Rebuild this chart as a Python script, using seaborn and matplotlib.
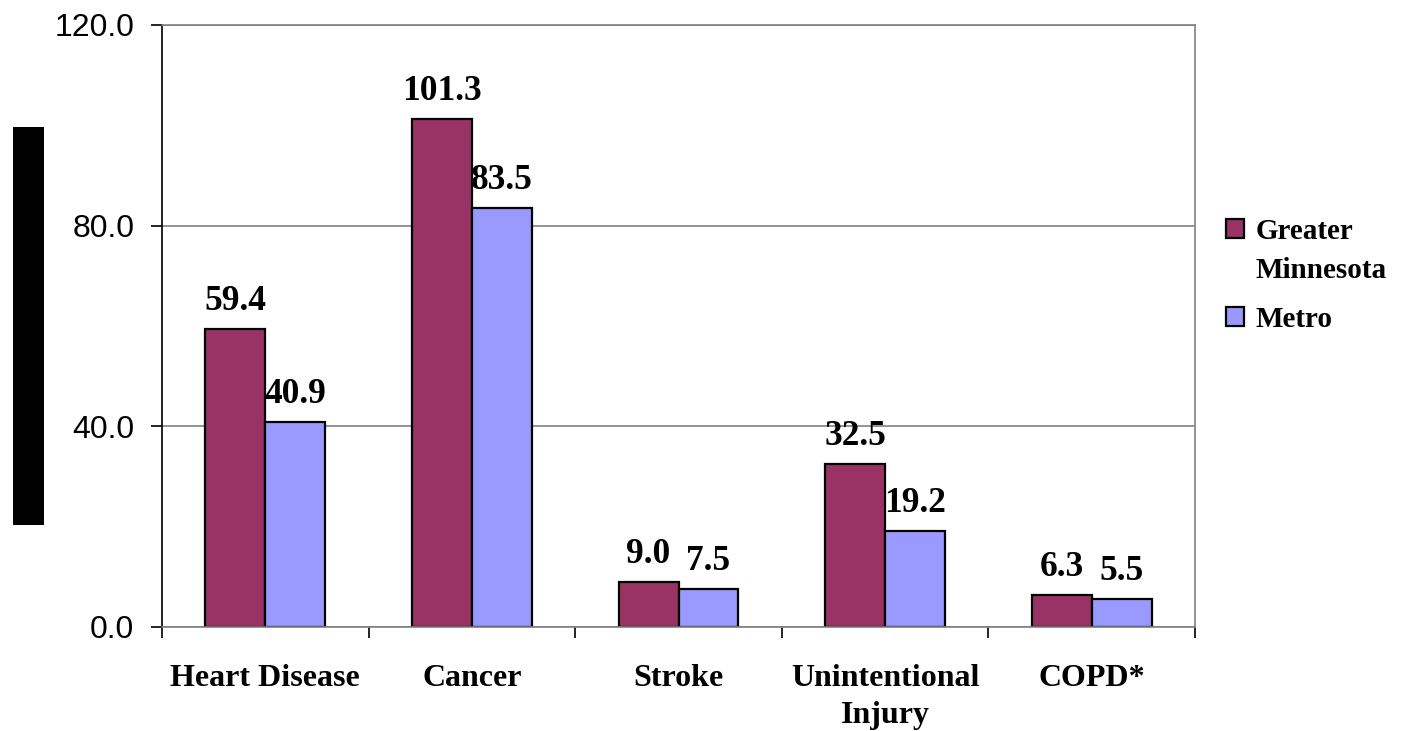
import pandas as pd
import seaborn as sns
import matplotlib.pyplot as plt
from matplotlib.patches import Rectangle, Patch
from matplotlib.legend_handler import HandlerPatch
from matplotlib.ticker import FixedLocator, FormatStrFormatter

# Data
causes = ["Heart Disease", "Cancer", "Stroke", "Unintentional\nInjury", "COPD*"]
greater_mn = [59.4, 101.3, 9.0, 32.5, 6.3]
metro = [40.9, 83.5, 7.5, 19.2, 5.5]
regions = ["Greater\nMinnesota", "Metro"]
y_ticks = [0, 40, 80, 120]

df = pd.DataFrame({
    "cause": causes * 2,
    "region": [regions[0]] * len(causes) + [regions[1]] * len(causes),
    "rate": greater_mn + metro,
})

colors = ["#993366", "#9999FF"]
grid_gray = "#808080"

sns.set_theme(style="white")
plt.rcParams["font.family"] = ["Liberation Serif", "DejaVu Serif"]
plt.rcParams["text.color"] = "black"
plt.rcParams["xtick.color"] = "black"
plt.rcParams["ytick.color"] = "black"
plt.rcParams["xtick.labelcolor"] = "black"
plt.rcParams["ytick.labelcolor"] = "black"

fig = plt.figure(figsize=(14.08, 7.31), dpi=100)
ax = fig.add_axes([162 / 1408, 1 - 627 / 731, (1195 - 162) / 1408, (627 - 25) / 731])

sns.barplot(data=df, x="cause", y="rate", hue="region", order=causes,
            hue_order=regions, palette=colors, saturation=1, width=0.58,
            edgecolor="black", linewidth=1.6, errorbar=None, legend=False, ax=ax)

ax.set_xlim(-0.5, len(causes) - 0.5)
ax.set_ylim(y_ticks[0], y_ticks[-1])
ax.set_xlabel("")
ax.set_ylabel("")

# Horizontal gridlines
ax.set_axisbelow(True)
ax.yaxis.grid(True, color=grid_gray, linewidth=1.2)
ax.xaxis.grid(False)

for side in ["top", "right", "bottom"]:
    ax.spines[side].set_color(grid_gray)
    ax.spines[side].set_linewidth(1.2)
ax.spines["left"].set_color("black")
ax.spines["left"].set_linewidth(1.2)

# Y ticks
ax.yaxis.set_major_locator(FixedLocator(y_ticks))
ax.yaxis.set_major_formatter(FormatStrFormatter("%.1f"))
ax.tick_params(axis="y", which="major", direction="out", length=8, width=1.2,
               pad=12, left=True)
for lbl in ax.get_yticklabels():
    lbl.set_fontfamily(["Liberation Sans", "DejaVu Sans"])
    lbl.set_fontsize(23)

# X ticks: labels at category centres, tick marks at boundaries
ax.xaxis.set_minor_locator(FixedLocator([i - 0.5 for i in range(len(causes) + 1)]))
ax.tick_params(axis="x", which="major", length=0, pad=27, bottom=True)
ax.tick_params(axis="x", which="minor", direction="out", length=8, width=1.2,
               bottom=True)
ax.set_xticks(range(len(causes)))
ax.set_xticklabels(causes, fontsize=23, fontweight="bold", linespacing=1.35, va="top")

# Value labels above bars
for container in ax.containers:
    ax.bar_label(container, fmt="%.1f", padding=8, fontsize=25.5, fontweight="bold")

handles = [Patch(facecolor=c, edgecolor="black", linewidth=1.6) for c in colors]


# Legend swatch sits beside the first line of a two-line label
def top_swatch(legend, orig_handle, xdescent, ydescent, width, height, fontsize):
    idx = handles.index(orig_handle)
    extra_lines = regions[idx].count("\n")
    shift = extra_lines * fontsize * 0.78
    return Rectangle((-xdescent, -ydescent + shift), width, height)


leg = fig.legend(handles, regions, loc="upper left",
                 bbox_to_anchor=(1200 / 1408, 1 - 192 / 731), frameon=False,
                 prop={"family": "Liberation Serif", "weight": "bold", "size": 21},
                 handlelength=0.62, handleheight=0.62, handletextpad=0.4,
                 labelspacing=0.75,
                 handler_map={Patch: HandlerPatch(patch_func=top_swatch)})
for t in leg.get_texts():
    t.set_linespacing(1.55)

# Black bar on the left margin
fig.patches.append(Rectangle((13 / 1408, 1 - 525 / 731), 31 / 1408, 398 / 731,
                             transform=fig.transFigure, facecolor="black",
                             edgecolor="none"))

fig.savefig("out.png", dpi=100, facecolor="white")
